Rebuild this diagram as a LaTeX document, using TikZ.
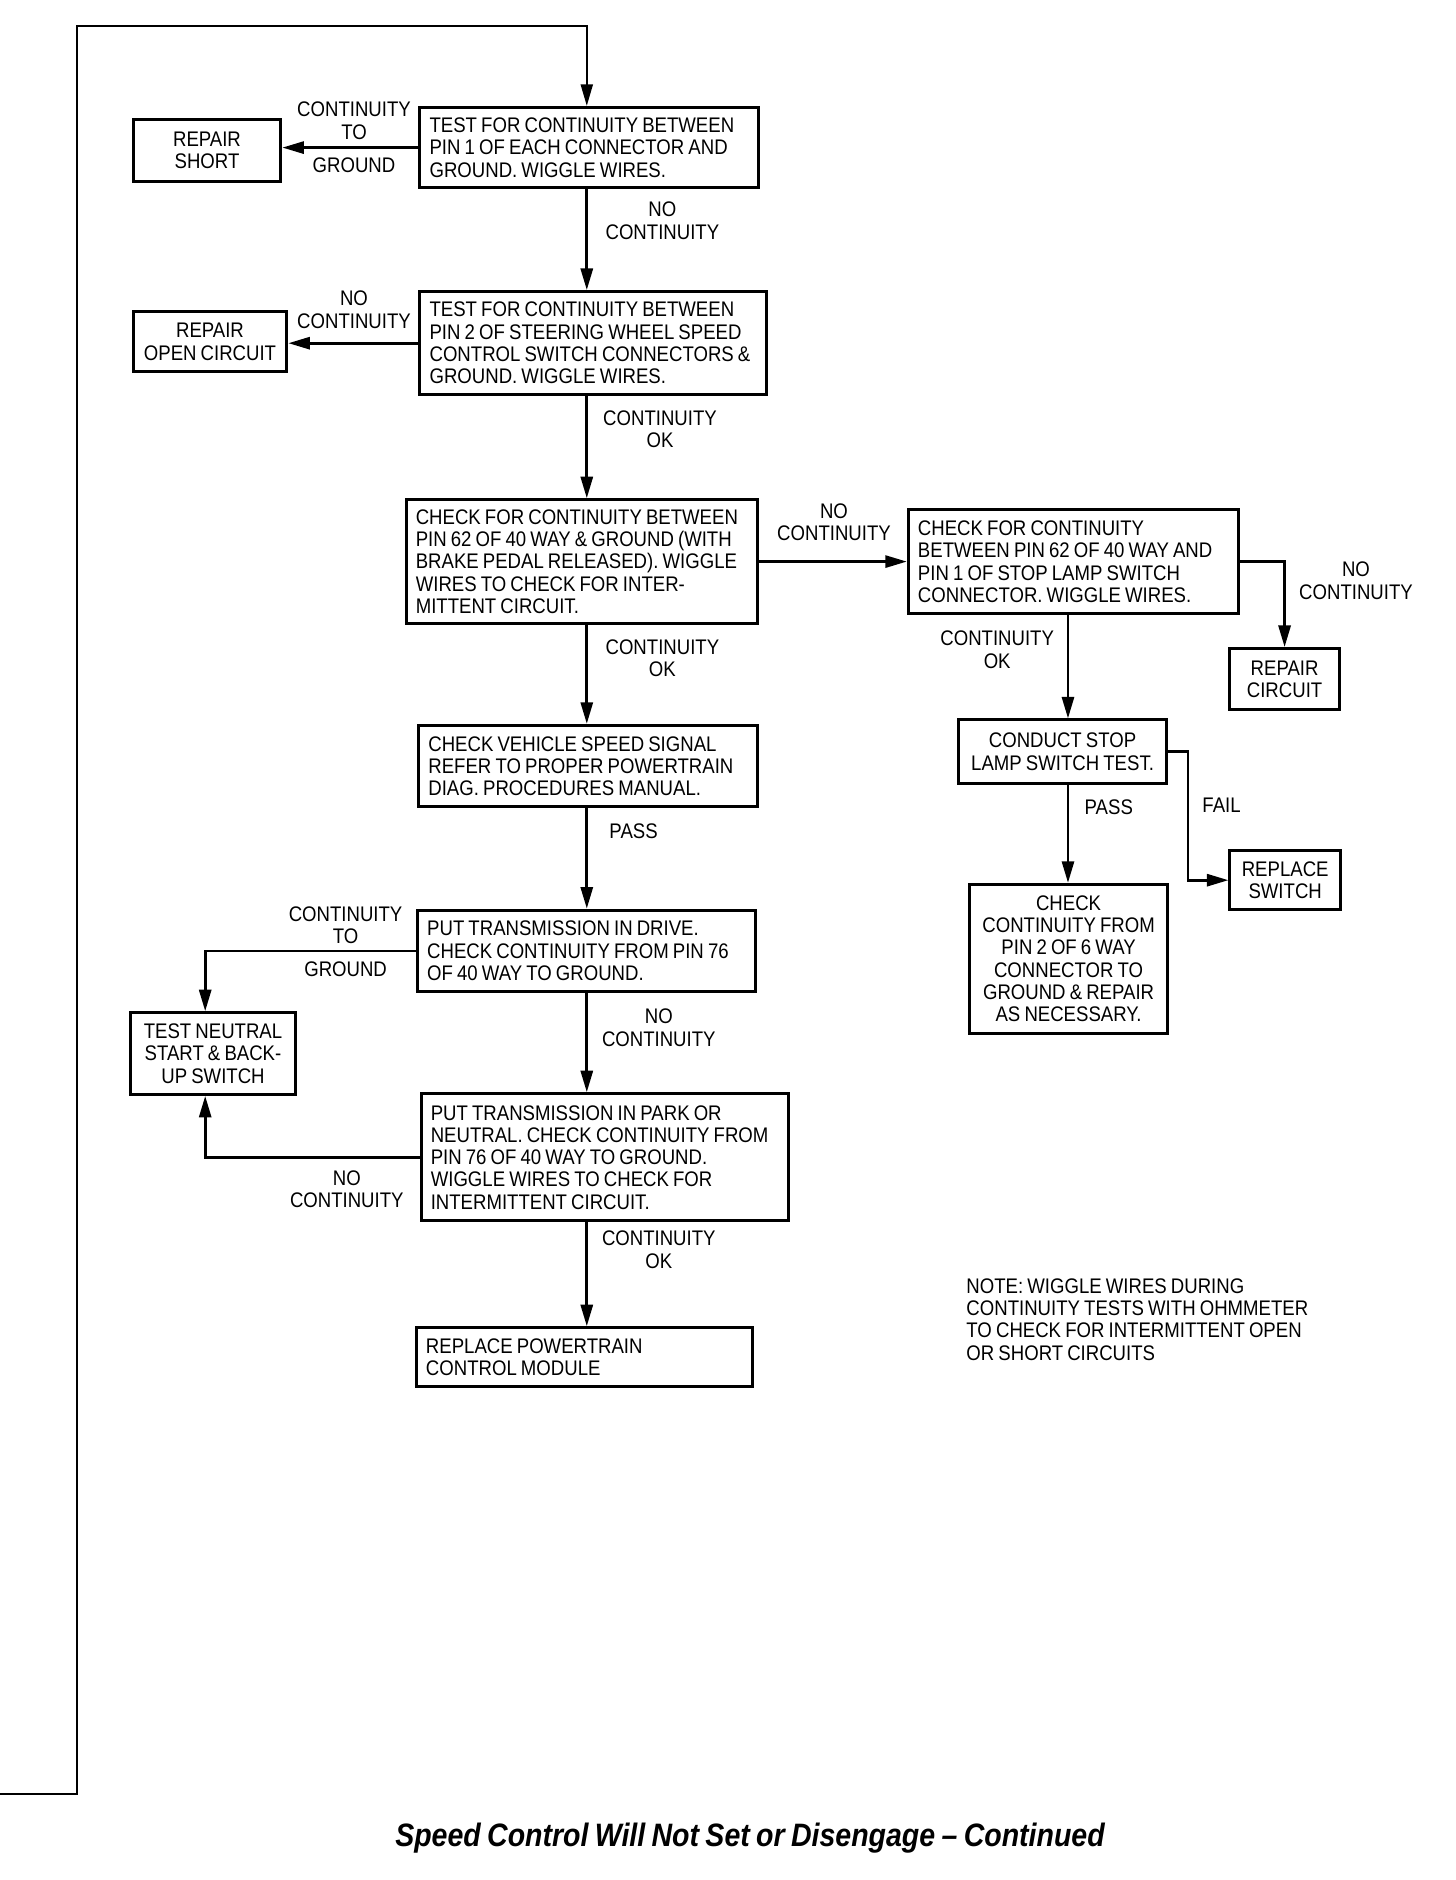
\documentclass[tikz,border=0pt]{standalone}
\usepackage{fontspec}
\setmainfont{Liberation Sans}[FakeStretch=0.88, WordSpace=0.8]
\usetikzlibrary{arrows.meta,calc}
\newcommand\boxfont{\fontsize{8.8}{9.3}\selectfont}
\newcommand\ttlfont{\fontsize{13.5}{15}\selectfont\bfseries\itshape}
\tikzset{
  box/.style={draw, line width=1.25pt, inner xsep=4pt, inner ysep=0pt, font=\boxfont, align=flush left},
  cbox/.style={draw, line width=1.25pt, inner sep=0pt, font=\boxfont, align=center},
  lbl/.style={inner sep=0pt, font=\boxfont, align=center},
  arr/.style={line width=1.2pt, -{Triangle[length=9pt,width=5pt]}},
  loopline/.style={line width=0.9pt, -{Triangle[length=9pt,width=5pt]}},
}
\begin{document}
\begin{tikzpicture}[x=0.5pt,y=-0.5pt]
\useasboundingbox (0,0) rectangle (1213.3,1566.7);
\fill[white] (0,0) rectangle (1213.3,1566.7);

% helper coordinates
\coordinate (spine) at (489,0);
\coordinate (col2) at (890,0);
\coordinate (nx) at (171,0);
\coordinate (failx) at (990,0);
\coordinate (lt) at (64,22);
\coordinate (lb) at (64,1495);
\coordinate (lo) at (0,1495);

% boxes
\node[box, minimum width=141pt, minimum height=33.5pt, text width=133pt] (b1) at (491,123)
  {TEST FOR CONTINUITY BETWEEN\\PIN 1 OF EACH CONNECTOR AND\\GROUND. WIGGLE WIRES.};
\node[cbox, minimum width=61.5pt, minimum height=25.5pt] (rs) at (172.5,125.5) {REPAIR\\SHORT};
\node[box, minimum width=144.5pt, minimum height=43pt, text width=136.5pt] (b2) at (494.5,286)
  {TEST FOR CONTINUITY BETWEEN\\PIN 2 OF STEERING WHEEL SPEED\\CONTROL SWITCH CONNECTORS \&\\GROUND. WIGGLE WIRES.};
\node[cbox, minimum width=64pt, minimum height=25pt] (roc) at (175,285) {REPAIR\\OPEN CIRCUIT};
\node[box, minimum width=146pt, minimum height=51.5pt, text width=138.5pt, inner xsep=3.75pt] (b3) at (485,468)
  {CHECK FOR CONTINUITY BETWEEN\\PIN 62 OF 40 WAY \& GROUND (WITH\\BRAKE PEDAL RELEASED). WIGGLE\\WIRES TO CHECK FOR INTER-\\MITTENT CIRCUIT.};
\node[box, minimum width=137.5pt, minimum height=43.5pt, text width=129.5pt] (b4) at (894.5,468)
  {CHECK FOR CONTINUITY\\BETWEEN PIN 62 OF 40 WAY AND\\PIN 1 OF STOP LAMP SWITCH\\CONNECTOR. WIGGLE WIRES.};
\node[cbox, minimum width=45.5pt, minimum height=25.5pt] (rc) at (1070.5,566) {REPAIR\\CIRCUIT};
\node[cbox, minimum width=86.5pt, minimum height=26.5pt] (cs) at (885.5,626.5) {CONDUCT STOP\\LAMP SWITCH TEST.};
\node[cbox, minimum width=46pt, minimum height=24.5pt] (rsw) at (1071,733.5) {REPLACE\\SWITCH};
\node[cbox, minimum width=82.5pt, minimum height=62pt] (chk) at (890.5,799)
  {CHECK\\CONTINUITY FROM\\PIN 2 OF 6 WAY\\CONNECTOR TO\\GROUND \& REPAIR\\AS NECESSARY.};
\node[box, minimum width=141pt, minimum height=34pt, text width=133pt] (vs) at (490,638.5)
  {CHECK VEHICLE SPEED SIGNAL\\REFER TO PROPER POWERTRAIN\\DIAG. PROCEDURES MANUAL.};
\node[box, minimum width=141pt, minimum height=34pt, text width=133pt] (drv) at (489,792.5)
  {PUT TRANSMISSION IN DRIVE.\\CHECK CONTINUITY FROM PIN 76\\OF 40 WAY TO GROUND.};
\node[cbox, minimum width=68.5pt, minimum height=34pt] (ntr) at (177.5,878)
  {TEST NEUTRAL\\START \& BACK-\\UP SWITCH};
\node[box, minimum width=153pt, minimum height=53pt, text width=145pt] (prk) at (504,964.5)
  {PUT TRANSMISSION IN PARK OR\\NEUTRAL. CHECK CONTINUITY FROM\\PIN 76 OF 40 WAY TO GROUND.\\WIGGLE WIRES TO CHECK FOR\\INTERMITTENT CIRCUIT.};
\node[box, minimum width=140pt, minimum height=24.5pt, text width=132pt] (pcm) at (487,1131)
  {REPLACE POWERTRAIN\\CONTROL MODULE};

% connectors
\draw[loopline] (lo) -- (lb) -- (lt) -| (b1.north -| spine);
\draw[arr] (b1.west) -- (b1.west -| rs.east);
\draw[arr] (b1.south -| spine) -- (b2.north -| spine);
\draw[arr] (b2.west) -- (b2.west -| roc.east);
\draw[arr] (b2.south -| spine) -- (b3.north -| spine);
\draw[arr] (b3.east) -- (b3.east -| b4.west);
\draw[arr] (b4.east) -| (rc.north);
\draw[arr] (b4.south -| col2) -- (cs.north -| col2);
\draw[arr] (cs.east) -- (cs.east -| failx) |- (rsw.west);
\draw[arr] (cs.south -| col2) -- (chk.north -| col2);
\draw[arr] (b3.south -| spine) -- (vs.north -| spine);
\draw[arr] (vs.south -| spine) -- (drv.north -| spine);
\draw[arr] (drv.west) -| (ntr.north -| nx);
\draw[arr] (drv.south -| spine) -- (prk.north -| spine);
\draw[arr] (prk.west) -| (ntr.south -| nx);
\draw[arr] (prk.south -| spine) -- (pcm.north -| spine);

% labels
\node[lbl] (l1a) at (295,100.5) {CONTINUITY\\TO};
\node[lbl] (l1b) at (295,138) {GROUND};
\node[lbl] (l2) at (552,184) {NO\\CONTINUITY};
\node[lbl] (l3) at (295,258) {NO\\CONTINUITY};
\node[lbl] (l4) at (550,357.5) {CONTINUITY\\OK};
\node[lbl] (l5) at (695,435) {NO\\CONTINUITY};
\node[lbl] (l6) at (1130,484) {NO\\CONTINUITY};
\node[lbl] (l7) at (831,541.5) {CONTINUITY\\OK};
\node[lbl] (l8) at (1018,671) {FAIL};
\node[lbl] (l9) at (924,673) {PASS};
\node[lbl] (l10) at (552,548.5) {CONTINUITY\\OK};
\node[lbl] (l11) at (528,693) {PASS};
\node[lbl] (l12a) at (288,771) {CONTINUITY\\TO};
\node[lbl] (l12b) at (288,808) {GROUND};
\node[lbl] (l13) at (549,856.5) {NO\\CONTINUITY};
\node[lbl] (l14) at (289,991) {NO\\CONTINUITY};
\node[lbl] (l15) at (549,1041.5) {CONTINUITY\\OK};

\node[lbl, anchor=west, align=left] (note) at (805,1099.5)
  {NOTE: WIGGLE WIRES DURING\\CONTINUITY TESTS WITH OHMMETER\\TO CHECK FOR INTERMITTENT OPEN\\OR SHORT CIRCUITS};

\node[inner sep=0pt, font=\ttlfont] (title) at (625,1532)
  {Speed Control Will Not Set or Disengage – Continued};
\end{tikzpicture}
\end{document}
